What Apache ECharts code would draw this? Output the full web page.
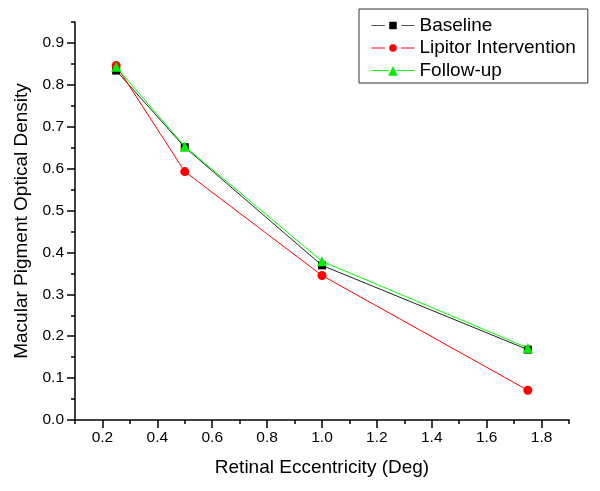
<!DOCTYPE html>
<html>
<head>
<meta charset="utf-8">
<script src="https://cdn.jsdelivr.net/npm/echarts@6/dist/echarts.min.js"></script>
<style>
html,body{margin:0;padding:0;background:#fff;}
#chart{width:600px;height:491px;}
</style>
</head>
<body>
<div id="chart"></div>
<script>
const eccentricity = [0.25, 0.5, 1.0, 1.75];
const baseline = [0.834, 0.651, 0.369, 0.168];
const lipitor = [0.846, 0.593, 0.345, 0.071];
const followUp = [0.843, 0.653, 0.379, 0.172];

const xMajorTicks = [0.2, 0.4, 0.6, 0.8, 1.0, 1.2, 1.4, 1.6, 1.8];
const xMinorTicks = [0.1, 0.3, 0.5, 0.7, 0.9, 1.1, 1.3, 1.5, 1.7, 1.9];
const yMajorTicks = [0.0, 0.1, 0.2, 0.3, 0.4, 0.5, 0.6, 0.7, 0.8, 0.9];
const yMinorTicks = [0.05, 0.15, 0.25, 0.35, 0.45, 0.55, 0.65, 0.75, 0.85, 0.95];

const seriesNames = ['Baseline', 'Lipitor Intervention', 'Follow-up'];

const FONT = 'Liberation Sans, Arial, sans-serif';
const pairs = (ys) => eccentricity.map((x, i) => [x, ys[i]]);

const chart = echarts.init(document.getElementById('chart'), null, {renderer: 'canvas'});
chart.setOption({
  animation: false,
  backgroundColor: '#ffffff',
  textStyle: {fontFamily: FONT},
  grid: {left: 75, right: 31, top: 22, bottom: 71},
  legend: {
    orient: 'vertical',
    left: 359, top: 9,
    padding: [7, 12, 3, 12],
    borderColor: '#333', borderWidth: 1,
    itemWidth: 43, itemHeight: 15, itemGap: 3.5,
    itemStyle: {borderColor: '#ffffff', borderWidth: 4.5},
    lineStyle: {width: 1},
    textStyle: {fontSize: 19, color: '#000', fontFamily: FONT},
    data: [
      {name: seriesNames[0], lineStyle: {color: '#555', width: 1}},
      {name: seriesNames[1]},
      {name: seriesNames[2], itemStyle: {borderColor: '#ffffff', borderWidth: 1.5}}
    ]
  },
  xAxis: [{
    type: 'value', min: 0.1, max: 1.9, position: 'bottom',
    name: 'Retinal Eccentricity (Deg)', nameLocation: 'middle', nameGap: 38,
    nameTextStyle: {fontSize: 19, color: '#000', fontFamily: FONT},
    axisLine: {show: true, lineStyle: {color: '#000', width: 1.5}},
    axisTick: {show: true, customValues: xMajorTicks, length: 8, lineStyle: {color: '#000', width: 1.5}},
    axisLabel: {customValues: xMajorTicks, formatter: v => v.toFixed(1), fontSize: 15.5, color: '#000', margin: 10, fontFamily: FONT},
    splitLine: {show: false}
  }, {
    type: 'value', min: 0.1, max: 1.9, position: 'bottom',
    axisLine: {show: false},
    axisTick: {show: true, customValues: xMinorTicks, length: 4, lineStyle: {color: '#000', width: 1.5}},
    axisLabel: {show: false},
    splitLine: {show: false}
  }],
  yAxis: [{
    type: 'value', min: 0, max: 0.95, position: 'left',
    name: 'Macular Pigment Optical Density', nameLocation: 'middle', nameGap: 43,
    nameTextStyle: {fontSize: 19, color: '#000', fontFamily: FONT},
    axisLine: {show: true, lineStyle: {color: '#000', width: 1.5}},
    axisTick: {show: true, customValues: yMajorTicks, length: 8, lineStyle: {color: '#000', width: 1.5}},
    axisLabel: {customValues: yMajorTicks, formatter: v => v.toFixed(1), fontSize: 15.5, color: '#000', margin: 11, fontFamily: FONT},
    splitLine: {show: false}
  }, {
    type: 'value', min: 0, max: 0.95, position: 'left',
    axisLine: {show: false},
    axisTick: {show: true, customValues: yMinorTicks, length: 4, lineStyle: {color: '#000', width: 1.5}},
    axisLabel: {show: false},
    splitLine: {show: false}
  }],
  series: [{
    name: seriesNames[0], type: 'line', data: pairs(baseline),
    symbol: 'rect', symbolSize: 8,
    lineStyle: {color: '#222', width: 1},
    itemStyle: {color: '#000'},
    z: 2
  }, {
    name: seriesNames[1], type: 'line', data: pairs(lipitor),
    symbol: 'circle', symbolSize: 9,
    lineStyle: {color: '#ff0000', width: 1},
    itemStyle: {color: '#ff0000'},
    z: 3
  }, {
    name: seriesNames[2], type: 'line', data: pairs(followUp),
    symbol: 'triangle', symbolSize: 10,
    lineStyle: {color: '#00ff00', width: 1},
    itemStyle: {color: '#00ee00'},
    z: 4
  }]
});
</script>
</body>
</html>
